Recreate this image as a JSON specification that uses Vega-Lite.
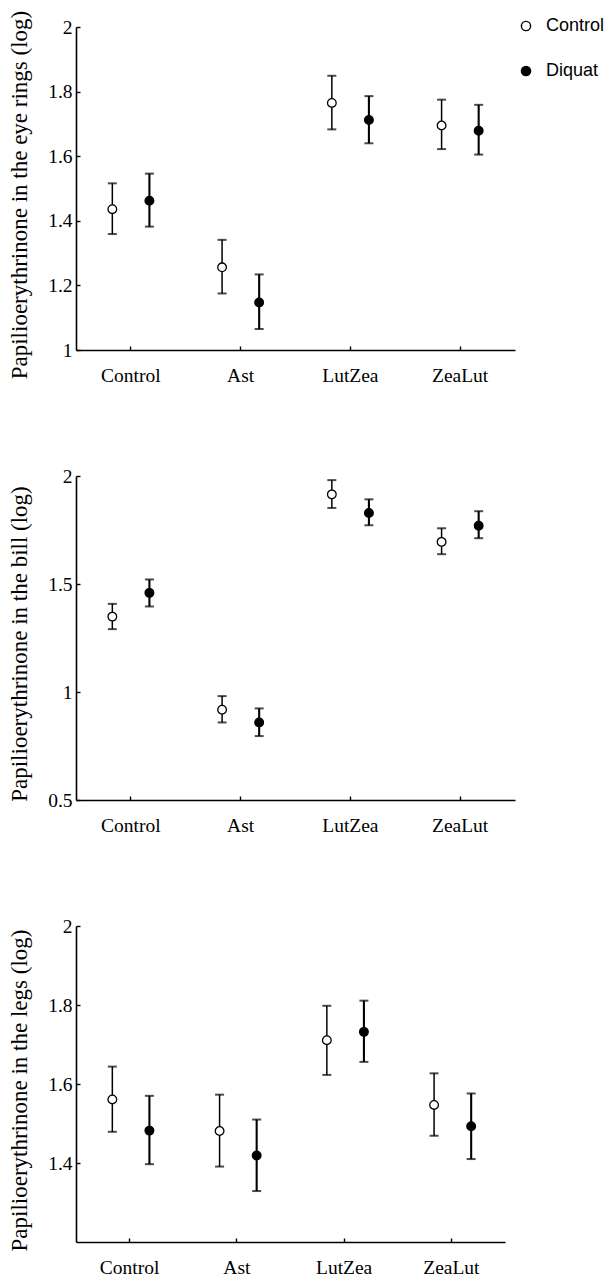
{
  "$schema": "https://vega.github.io/schema/vega-lite/v6.json",
  "padding": {"left": 8, "top": 10, "right": 4, "bottom": 0},
  "background": "white",
  "bounds": "flush",
  "spacing": 126,
  "config": {
    "view": {"stroke": null},
    "font": "Liberation Serif",
    "axis": {
      "grid": false,
      "domainColor": "black",
      "domainWidth": 1.6,
      "tickColor": "black",
      "tickWidth": 1.4,
      "tickSize": -4,
      "labelFont": "Liberation Serif",
      "labelFontSize": 19.5,
      "labelColor": "black",
      "titleFont": "Liberation Serif",
      "titleFontSize": 23,
      "titleFontWeight": "normal",
      "titleColor": "black"
    },
    "axisX": {"labelAngle": 0, "labelPadding": 20},
    "axisY": {"labelPadding": 8, "titlePadding": 16}
  },
  "datasets": {
    "eye": [
      {"group": "Control", "trt": "Control", "mean": 1.436, "lo": 1.359, "hi": 1.516},
      {"group": "Control", "trt": "Diquat", "mean": 1.462, "lo": 1.382, "hi": 1.546},
      {"group": "Ast", "trt": "Control", "mean": 1.256, "lo": 1.175, "hi": 1.341},
      {"group": "Ast", "trt": "Diquat", "mean": 1.147, "lo": 1.065, "hi": 1.234},
      {"group": "LutZea", "trt": "Control", "mean": 1.765, "lo": 1.683, "hi": 1.849},
      {"group": "LutZea", "trt": "Diquat", "mean": 1.712, "lo": 1.640, "hi": 1.786},
      {"group": "ZeaLut", "trt": "Control", "mean": 1.695, "lo": 1.622, "hi": 1.775},
      {"group": "ZeaLut", "trt": "Diquat", "mean": 1.679, "lo": 1.605, "hi": 1.759}
    ],
    "bill": [
      {"group": "Control", "trt": "Control", "mean": 1.349, "lo": 1.291, "hi": 1.408},
      {"group": "Control", "trt": "Diquat", "mean": 1.459, "lo": 1.396, "hi": 1.521},
      {"group": "Ast", "trt": "Control", "mean": 0.918, "lo": 0.859, "hi": 0.981},
      {"group": "Ast", "trt": "Diquat", "mean": 0.859, "lo": 0.796, "hi": 0.924},
      {"group": "LutZea", "trt": "Control", "mean": 1.915, "lo": 1.852, "hi": 1.981},
      {"group": "LutZea", "trt": "Diquat", "mean": 1.829, "lo": 1.772, "hi": 1.892},
      {"group": "ZeaLut", "trt": "Control", "mean": 1.695, "lo": 1.638, "hi": 1.758},
      {"group": "ZeaLut", "trt": "Diquat", "mean": 1.770, "lo": 1.712, "hi": 1.837}
    ],
    "legs": [
      {"group": "Control", "trt": "Control", "mean": 1.561, "lo": 1.479, "hi": 1.644},
      {"group": "Control", "trt": "Diquat", "mean": 1.482, "lo": 1.397, "hi": 1.570},
      {"group": "Ast", "trt": "Control", "mean": 1.481, "lo": 1.391, "hi": 1.573},
      {"group": "Ast", "trt": "Diquat", "mean": 1.419, "lo": 1.329, "hi": 1.510},
      {"group": "LutZea", "trt": "Control", "mean": 1.711, "lo": 1.623, "hi": 1.798},
      {"group": "LutZea", "trt": "Diquat", "mean": 1.732, "lo": 1.656, "hi": 1.811},
      {"group": "ZeaLut", "trt": "Control", "mean": 1.547, "lo": 1.469, "hi": 1.627},
      {"group": "ZeaLut", "trt": "Diquat", "mean": 1.493, "lo": 1.410, "hi": 1.576}
    ]
  },
  "resolve": {"scale": {"fill": "independent"}, "legend": {"fill": "independent"}},
  "vconcat": [
    {
      "width": 439,
      "height": 323,
      "data": {"name": "eye"},
      "encoding": {
        "x": {"field": "group", "type": "nominal", "sort": ["Control", "Ast", "LutZea", "ZeaLut"], "scale": {"paddingInner": 0, "paddingOuter": 0}, "axis": {"title": null}},
        "xOffset": {"field": "trt", "type": "nominal", "sort": ["Control", "Diquat"], "scale": {"paddingInner": 0, "paddingOuter": 0.48}}
      },
      "layer": [
        {
          "mark": {"type": "rule", "color": "black"},
          "encoding": {
            "y": {"field": "lo", "type": "quantitative", "title": "Papilioerythrinone in the eye rings (log)", "scale": {"domain": [1, 2], "nice": false}, "axis": {"values": [1, 1.2, 1.4, 1.6, 1.8, 2], "format": "~g", "titleY": 167.5}},
            "y2": {"field": "hi"},
            "strokeWidth": {"field": "trt", "type": "ordinal", "scale": {"domain": ["Control", "Diquat"], "range": [1.5, 2.1]}, "legend": null}
          }
        },
        {
          "mark": {"type": "tick", "orient": "horizontal", "size": 9, "thickness": 2, "color": "black"},
          "encoding": {"y": {"field": "lo", "type": "quantitative", "title": "Papilioerythrinone in the eye rings (log)"}}
        },
        {
          "mark": {"type": "tick", "orient": "horizontal", "size": 9, "thickness": 2, "color": "black"},
          "encoding": {"y": {"field": "hi", "type": "quantitative", "title": "Papilioerythrinone in the eye rings (log)"}}
        },
        {
          "mark": {"type": "point", "shape": "circle", "filled": true, "size": 75, "stroke": "black", "strokeWidth": 1.3, "opacity": 1},
          "encoding": {
            "y": {"field": "mean", "type": "quantitative", "title": "Papilioerythrinone in the eye rings (log)"},
            "fill": {
              "field": "trt", "type": "nominal",
              "scale": {"domain": ["Control", "Diquat"], "range": ["white", "black"]},
              "legend": {
                "orient": "none", "legendX": 441, "legendY": -10, "title": null,
                "labelFont": "Liberation Sans", "labelFontSize": 18, "labelColor": "black",
                "symbolType": "circle", "symbolSize": 85, "symbolStrokeColor": "black", "symbolStrokeWidth": 1.4,
                "rowPadding": 27, "labelOffset": 11, "padding": 0
              }
            }
          }
        }
      ]
    },
    {
      "width": 439,
      "height": 324,
      "data": {"name": "bill"},
      "encoding": {
        "x": {"field": "group", "type": "nominal", "sort": ["Control", "Ast", "LutZea", "ZeaLut"], "scale": {"paddingInner": 0, "paddingOuter": 0}, "axis": {"title": null}},
        "xOffset": {"field": "trt", "type": "nominal", "sort": ["Control", "Diquat"], "scale": {"paddingInner": 0, "paddingOuter": 0.48}}
      },
      "layer": [
        {
          "mark": {"type": "rule", "color": "black"},
          "encoding": {
            "y": {"field": "lo", "type": "quantitative", "title": "Papilioerythrinone in the bill (log)", "scale": {"domain": [0.5, 2], "nice": false}, "axis": {"values": [0.5, 1, 1.5, 2], "format": "~g", "titleY": 167.5}},
            "y2": {"field": "hi"},
            "strokeWidth": {"field": "trt", "type": "ordinal", "scale": {"domain": ["Control", "Diquat"], "range": [1.5, 2.1]}, "legend": null}
          }
        },
        {
          "mark": {"type": "tick", "orient": "horizontal", "size": 9, "thickness": 2, "color": "black"},
          "encoding": {"y": {"field": "lo", "type": "quantitative", "title": "Papilioerythrinone in the bill (log)"}}
        },
        {
          "mark": {"type": "tick", "orient": "horizontal", "size": 9, "thickness": 2, "color": "black"},
          "encoding": {"y": {"field": "hi", "type": "quantitative", "title": "Papilioerythrinone in the bill (log)"}}
        },
        {
          "mark": {"type": "point", "shape": "circle", "filled": true, "size": 75, "stroke": "black", "strokeWidth": 1.3, "opacity": 1},
          "encoding": {
            "y": {"field": "mean", "type": "quantitative", "title": "Papilioerythrinone in the bill (log)"},
            "fill": {"field": "trt", "type": "nominal", "scale": {"domain": ["Control", "Diquat"], "range": ["white", "black"]}, "legend": null}
          }
        }
      ]
    },
    {
      "width": 429,
      "height": 316,
      "data": {"name": "legs"},
      "encoding": {
        "x": {"field": "group", "type": "nominal", "sort": ["Control", "Ast", "LutZea", "ZeaLut"], "scale": {"paddingInner": 0, "paddingOuter": 0}, "axis": {"title": null}},
        "xOffset": {"field": "trt", "type": "nominal", "sort": ["Control", "Diquat"], "scale": {"paddingInner": 0, "paddingOuter": 0.48}}
      },
      "layer": [
        {
          "mark": {"type": "rule", "color": "black"},
          "encoding": {
            "y": {"field": "lo", "type": "quantitative", "title": "Papilioerythrinone in the legs (log)", "scale": {"domain": [1.2, 2], "nice": false}, "axis": {"values": [1.4, 1.6, 1.8, 2], "format": "~g", "titleY": 164}},
            "y2": {"field": "hi"},
            "strokeWidth": {"field": "trt", "type": "ordinal", "scale": {"domain": ["Control", "Diquat"], "range": [1.5, 2.1]}, "legend": null}
          }
        },
        {
          "mark": {"type": "tick", "orient": "horizontal", "size": 9, "thickness": 2, "color": "black"},
          "encoding": {"y": {"field": "lo", "type": "quantitative", "title": "Papilioerythrinone in the legs (log)"}}
        },
        {
          "mark": {"type": "tick", "orient": "horizontal", "size": 9, "thickness": 2, "color": "black"},
          "encoding": {"y": {"field": "hi", "type": "quantitative", "title": "Papilioerythrinone in the legs (log)"}}
        },
        {
          "mark": {"type": "point", "shape": "circle", "filled": true, "size": 75, "stroke": "black", "strokeWidth": 1.3, "opacity": 1},
          "encoding": {
            "y": {"field": "mean", "type": "quantitative", "title": "Papilioerythrinone in the legs (log)"},
            "fill": {"field": "trt", "type": "nominal", "scale": {"domain": ["Control", "Diquat"], "range": ["white", "black"]}, "legend": null}
          }
        }
      ]
    }
  ]
}
